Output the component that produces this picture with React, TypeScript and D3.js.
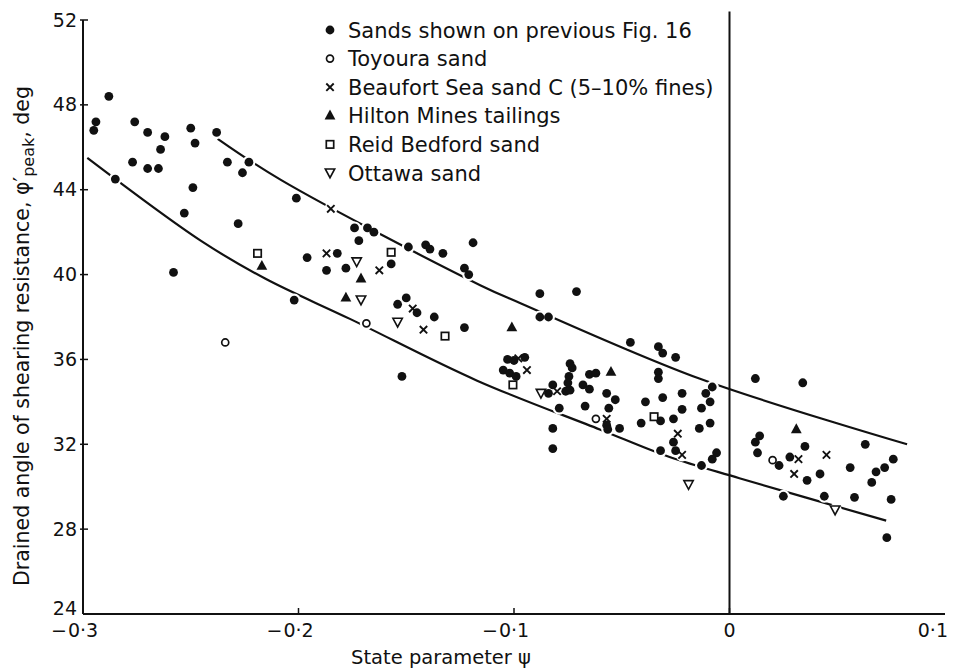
import React from "react";
import * as d3 from "d3";

const W = 959;
const H = 670;

const xTicks = [-0.3, -0.2, -0.1, 0, 0.1];
const xTickLabels = ["−0·3", "−0·2", "−0·1", "0", "0·1"];
const yTicks = [24, 28, 32, 36, 40, 44, 48, 52];
const yTickLabels = ["24", "28", "32", "36", "40", "44", "48", "52"];

// [state parameter psi, phi'peak (deg)]
const sandsFig16: [number, number][] = [
  [-0.295, 46.8], [-0.294, 47.2], [-0.288, 48.4], [-0.285, 44.5], [-0.277, 45.3], [-0.276, 47.2],
  [-0.27, 46.7], [-0.27, 45.0], [-0.265, 45.0], [-0.264, 45.9], [-0.262, 46.5], [-0.25, 46.9],
  [-0.248, 46.2], [-0.249, 44.1], [-0.253, 42.9], [-0.238, 46.7], [-0.233, 45.3], [-0.226, 44.8],
  [-0.223, 45.3], [-0.228, 42.4], [-0.201, 43.6], [-0.258, 40.1], [-0.196, 40.8], [-0.202, 38.8],
  [-0.182, 41.0], [-0.187, 40.2], [-0.174, 42.2], [-0.168, 42.2], [-0.165, 42.0], [-0.172, 41.6],
  [-0.149, 41.3], [-0.141, 41.4], [-0.139, 41.2], [-0.133, 41.0], [-0.119, 41.5], [-0.157, 40.5],
  [-0.178, 40.3], [-0.123, 40.3], [-0.121, 40.0], [-0.15, 38.9], [-0.154, 38.6], [-0.145, 38.2],
  [-0.137, 38.0], [-0.123, 37.5], [-0.152, 35.2],
  [-0.088, 39.1], [-0.071, 39.2], [-0.088, 38.0], [-0.084, 38.0], [-0.103, 36.0], [-0.1, 35.95],
  [-0.095, 36.1], [-0.105, 35.5], [-0.102, 35.35], [-0.099, 35.2], [-0.084, 34.4], [-0.082, 34.8],
  [-0.076, 34.5], [-0.074, 34.55], [-0.074, 35.8], [-0.073, 35.6], [-0.0745, 35.2], [-0.075, 34.9],
  [-0.079, 33.7], [-0.065, 35.3], [-0.062, 35.35], [-0.068, 34.8], [-0.065, 34.6], [-0.057, 34.4],
  [-0.053, 34.1], [-0.067, 33.8], [-0.056, 33.7], [-0.057, 32.9], [-0.0565, 32.7], [-0.051, 32.75],
  [-0.082, 32.75], [-0.082, 31.8],
  [-0.046, 36.8], [-0.033, 36.6], [-0.031, 36.3], [-0.025, 36.1], [-0.033, 35.4], [-0.033, 35.1],
  [-0.008, 34.7], [-0.011, 34.4], [-0.009, 34.0], [-0.039, 34.0], [-0.031, 34.2], [-0.022, 34.4],
  [-0.022, 33.65], [-0.013, 33.7], [-0.032, 33.1], [-0.026, 33.2], [-0.041, 33.0], [-0.009, 33.0],
  [-0.014, 32.75], [-0.026, 32.1], [-0.025, 31.7], [-0.032, 31.7], [-0.006, 31.6], [-0.008, 31.3],
  [-0.013, 31.0],
  [0.012, 35.1], [0.034, 34.9], [0.012, 32.1], [0.014, 32.4], [0.013, 31.6], [0.023, 31.0],
  [0.028, 31.4], [0.035, 31.9], [0.036, 30.3], [0.042, 30.6], [0.025, 29.55], [0.044, 29.55],
  [0.058, 29.5], [0.056, 30.9], [0.063, 32.0], [0.066, 30.2], [0.068, 30.7], [0.072, 30.9],
  [0.076, 31.3], [0.075, 29.4], [0.073, 27.6],
];
const toyoura: [number, number][] = [
  [-0.234, 36.8], [-0.1685, 37.7], [-0.062, 33.2], [0.02, 31.25],
];
const beaufortC: [number, number][] = [
  [-0.185, 43.1], [-0.187, 41.0], [-0.1625, 40.2], [-0.147, 38.4], [-0.142, 37.4], [-0.098, 36.05],
  [-0.094, 35.5], [-0.08, 34.5], [-0.057, 33.2], [-0.024, 32.5], [-0.022, 31.5], [0.032, 31.3],
  [0.045, 31.5], [0.03, 30.6],
];
const hiltonMines: [number, number][] = [
  [-0.217, 40.4], [-0.171, 39.8], [-0.178, 38.9], [-0.101, 37.5], [-0.055, 35.4], [0.031, 32.7],
];
const reidBedford: [number, number][] = [
  [-0.219, 41.0], [-0.157, 41.05], [-0.132, 37.1], [-0.1005, 34.8], [-0.035, 33.3],
];
const ottawa: [number, number][] = [
  [-0.173, 40.6], [-0.171, 38.8], [-0.154, 37.75], [-0.0875, 34.4], [-0.019, 30.1], [0.049, 28.9],
];

const upperBound: [number, number][] = [
  [-0.2375, 46.4], [-0.208, 44.45], [-0.1157, 39.5], [-0.097, 38.65], [-0.014, 35.1], [0.0824, 32.0],
];
const lowerBound: [number, number][] = [
  [-0.298, 45.5], [-0.2454, 41.6], [-0.2153, 39.8], [-0.1759, 37.9], [-0.1171, 35.0],
  [-0.0602, 32.7], [-0.0278, 31.4], [0.0046, 30.4], [0.0727, 28.4],
];

const legendNames = [
  "Sands shown on previous Fig. 16",
  "Toyoura sand",
  "Beaufort Sea sand C (5–10% fines)",
  "Hilton Mines tailings",
  "Reid Bedford sand",
  "Ottawa sand",
];

type Kind = "dot" | "circle" | "cross" | "tri" | "square" | "tridown";
const kinds: Kind[] = ["dot", "circle", "cross", "tri", "square", "tridown"];
const seriesData = [sandsFig16, toyoura, beaufortC, hiltonMines, reidBedford, ottawa];

const FONT = "'DejaVu Sans', 'Liberation Sans', Arial, sans-serif";

function Marker({ kind, cx, cy }: { kind: Kind; cx: number; cy: number }) {
  switch (kind) {
    case "dot":
      return <circle cx={cx} cy={cy} r={4.4} fill="#111" />;
    case "circle":
      return <circle cx={cx} cy={cy} r={3.5} fill="#fff" stroke="#111" strokeWidth={1.7} />;
    case "cross":
      return (
        <path
          d={`M${cx - 3.7},${cy - 3.7}L${cx + 3.7},${cy + 3.7}M${cx - 3.7},${cy + 3.7}L${cx + 3.7},${cy - 3.7}`}
          stroke="#111"
          strokeWidth={1.9}
          fill="none"
        />
      );
    case "tri":
      return <path d={`M${cx},${cy - 6.2}L${cx + 5.4},${cy + 3.7}L${cx - 5.4},${cy + 3.7}Z`} fill="#111" />;
    case "square":
      return (
        <rect x={cx - 3.7} y={cy - 3.7} width={7.4} height={7.4} fill="#fff" stroke="#111" strokeWidth={1.7} />
      );
    case "tridown":
      return (
        <path
          d={`M${cx - 4.7},${cy - 4}L${cx + 4.7},${cy - 4}L${cx},${cy + 4.7}Z`}
          fill="#fff"
          stroke="#111"
          strokeWidth={1.6}
        />
      );
  }
  return null;
}

export default function App() {
  const x = d3.scaleLinear().domain([-0.3, 0.1]).range([83, 945]);
  const y = d3.scaleLinear().domain([24, 52]).range([614, 20]);
  const line = d3
    .line<[number, number]>()
    .x((d) => x(d[0]))
    .y((d) => y(d[1]))
    .curve(d3.curveCatmullRom.alpha(0.5));

  const allPts: [number, number][] = seriesData.flat();
  const legendY = (i: number) => 30 + i * 28.6;

  return (
    <svg
      width={W}
      height={H}
      style={{ position: "absolute", left: 0, top: 0, background: "#fff" }}
      fontFamily={FONT}
    >
      <rect x={0} y={0} width={W} height={H} fill="#fff" />
      <defs>
        <mask id="gapMask" maskUnits="userSpaceOnUse" x={0} y={0} width={W} height={H}>
          <rect x={0} y={0} width={W} height={H} fill="#fff" />
          {allPts.map((p, i) => (
            <circle key={i} cx={x(p[0])} cy={y(p[1])} r={6.5} fill="#000" />
          ))}
        </mask>
      </defs>

      {/* axes */}
      <line x1={x(-0.3)} y1={y(24)} x2={x(-0.3)} y2={y(52)} stroke="#111" strokeWidth={2} />
      <line x1={x(-0.3)} y1={y(24)} x2={x(0.1)} y2={y(24)} stroke="#111" strokeWidth={2} />
      <line x1={x(0)} y1={y(24)} x2={x(0)} y2={y(52.4)} stroke="#111" strokeWidth={2} />
      {yTicks.map((t, i) => (
        <g key={t}>
          {t !== 24 && (
            <line x1={x(-0.3) - 3} x2={x(-0.3) + 5} y1={y(t)} y2={y(t)} stroke="#111" strokeWidth={1.5} />
          )}
          <text
            x={x(-0.3) - 6}
            y={y(t) + (t === 24 ? 1 : 6.5)}
            textAnchor="end"
            fontSize={19}
            fill="#111"
          >
            {yTickLabels[i]}
          </text>
        </g>
      ))}
      {xTicks.map((t, i) => {
        const lab = xTickLabels[i];
        const neg = lab.startsWith("−");
        const num = neg ? lab.slice(1) : lab;
        const isLast = i === xTicks.length - 1;
        return (
          <g key={t}>
            {t > -0.3 && t < 0.1 && (
              <line x1={x(t)} x2={x(t)} y1={y(24)} y2={y(24) - 6} stroke="#111" strokeWidth={1.5} />
            )}
            <text
              x={isLast ? x(t) + 3 : x(t)}
              y={637}
              textAnchor={isLast ? "end" : "middle"}
              fontSize={19}
              fill="#111"
            >
              {num}
            </text>
            {neg && (
              <text x={x(t) - 16} y={637} textAnchor="end" fontSize={19} fill="#111">
                −
              </text>
            )}
          </g>
        );
      })}

      {/* axis titles */}
      <text x={441} y={664} textAnchor="middle" fontSize={19.5} fill="#111">
        State parameter ψ
      </text>
      <text
        transform={`translate(29,336) rotate(-90)`}
        textAnchor="middle"
        fontSize={20.5}
        fill="#111"
      >
        Drained angle of shearing resistance, φ′
        <tspan fontSize={16} dy={5}>peak</tspan>
        <tspan dy={-5}>, deg</tspan>
      </text>

      {/* bounding curves */}
      <g mask="url(#gapMask)">
        <path d={line(upperBound) || ""} fill="none" stroke="#111" strokeWidth={2.2} />
        <path d={line(lowerBound) || ""} fill="none" stroke="#111" strokeWidth={2.2} />
      </g>

      {/* data */}
      {seriesData.map((s, si) =>
        s.map((p, i) => <Marker key={`${si}-${i}`} kind={kinds[si]} cx={x(p[0])} cy={y(p[1])} />)
      )}

      {/* legend */}
      {legendNames.map((name, i) => (
        <g key={name}>
          <Marker kind={kinds[i]} cx={330} cy={legendY(i)} />
          <text x={348} y={legendY(i) + 7.5} fontSize={21} fill="#111">
            {name}
          </text>
        </g>
      ))}
    </svg>
  );
}
